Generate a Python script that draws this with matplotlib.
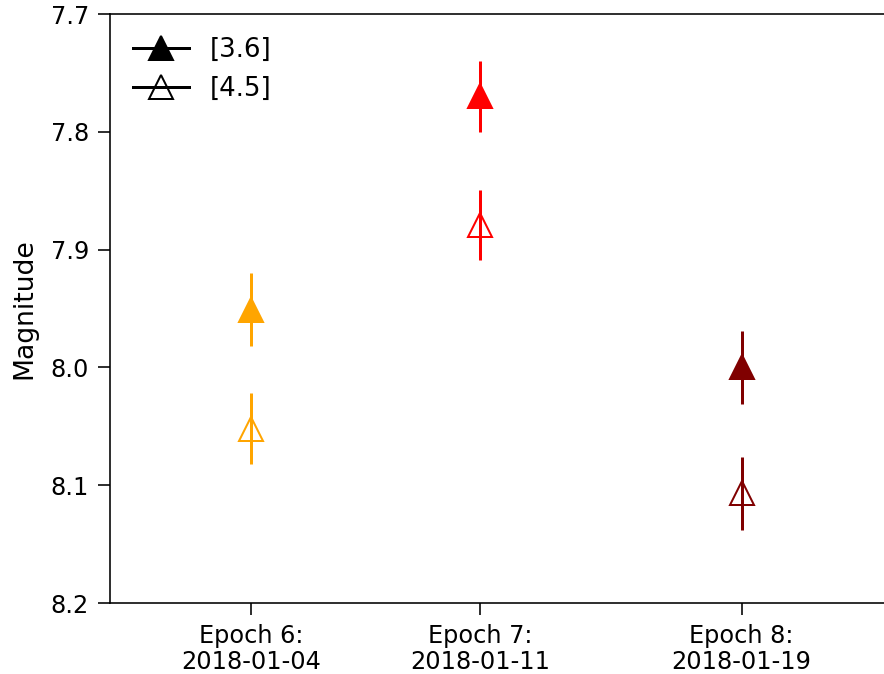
import numpy as np
import matplotlib
matplotlib.use("Agg")
import matplotlib.pyplot as plt
import matplotlib.dates as mdates
from matplotlib.lines import Line2D

# epochs and observation dates
epochs = ["Epoch 6", "Epoch 7", "Epoch 8"]
dates = np.array(["2018-01-04", "2018-01-11", "2018-01-19"], dtype="datetime64[D]")
colors = ["orange", "red", "maroon"]

# magnitudes per band
mag_36 = [7.951, 7.770, 8.000]
err_36 = [0.031, 0.030, 0.031]
mag_45 = [8.052, 7.879, 8.107]
err_45 = [0.030, 0.030, 0.031]

tick_labels = [f"{e}:\n{d}" for e, d in zip(epochs, dates.astype(str))]


def main():
    plt.rcParams['font.size'] = 12
    fig = plt.figure(figsize=(884 / 144, 674 / 144), dpi=144)
    ax = fig.add_axes([0.1244, 0.1053, 0.88, 0.8739])

    x = mdates.date2num(dates.astype("datetime64[s]").astype(object))

    for i in range(len(x)):
        ax.errorbar(x[i], mag_36[i], yerr=err_36[i], marker='^', ms=12,
                    color=colors[i], elinewidth=1.5, linestyle='none')
        ax.errorbar(x[i], mag_45[i], yerr=err_45[i], marker='^', ms=12,
                    mfc='none', mec=colors[i], mew=1.0, color=colors[i],
                    elinewidth=1.5, linestyle='none')

    ax.set_ylim(8.2, 7.7)
    ax.set_yticks([7.7, 7.8, 7.9, 8.0, 8.1, 8.2])
    ax.set_xlim(x[0] - 4.31, x[0] + 19.47)
    ax.set_xticks(x)
    ax.set_xticklabels(tick_labels, linespacing=1.1)
    ax.set_ylabel("Magnitude", fontsize=13.3, labelpad=6.5)
    ax.tick_params(axis='both', length=6)
    ax.tick_params(axis='x', pad=4.5)
    ax.tick_params(axis='y', pad=4.5)

    handles = [
        Line2D([], [], color='black', marker='^', ms=12, lw=1.5),
        Line2D([], [], color='black', marker='^', ms=12, mfc='none', lw=1.5),
    ]
    ax.legend(handles, ["[3.6]", "[4.5]"], loc='upper left', frameon=False,
              handlelength=2.15, fontsize=13)

    fig.savefig("out.png", dpi=144)


if __name__ == "__main__":
    main()
